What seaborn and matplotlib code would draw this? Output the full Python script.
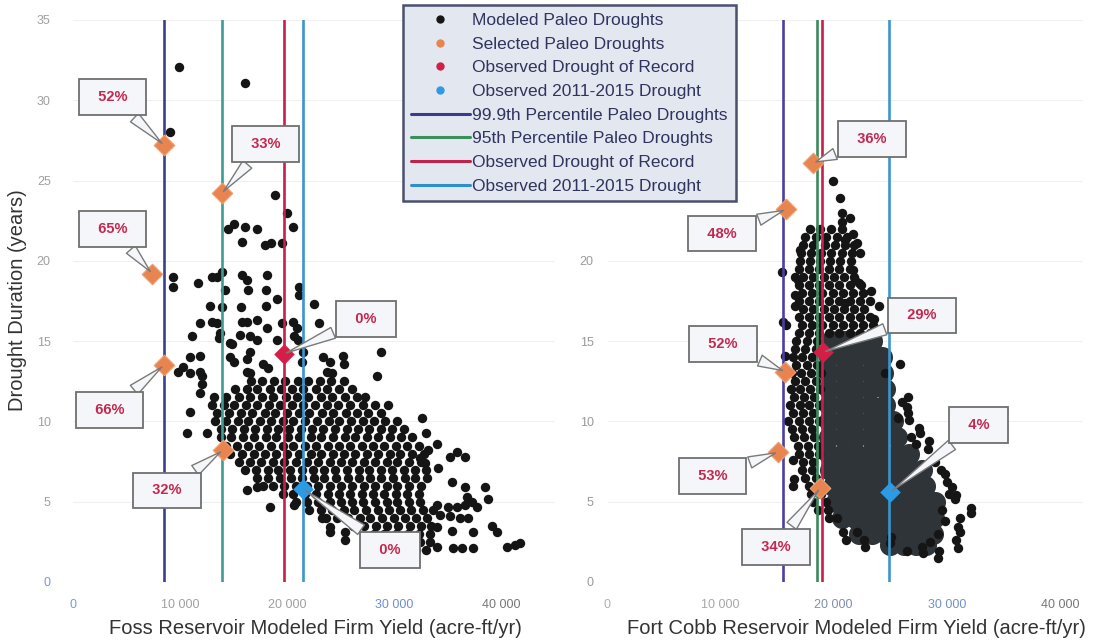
import matplotlib
matplotlib.use("Agg")
import matplotlib.pyplot as plt
from matplotlib.lines import Line2D
import matplotlib.ticker as mticker
import seaborn as sns
import pandas as pd

# Yield values are in thousand acre-ft/yr, durations in years.

# ---------------- Foss Reservoir ----------------
foss_sparse = [
    (9.9, 32.1), (16.1, 31.1), (9.1, 28.0),
    (18.9, 24.1), (20.0, 23.0), (20.6, 22.1), (15.0, 22.3), (14.5, 22.0), (16.1, 22.1), (17.2, 22.0),
    (15.8, 21.2), (17.9, 21.0), (18.5, 21.1), (19.5, 21.1),
    (9.3, 19.0), (9.3, 18.4), (11.7, 18.6), (13.0, 19.0), (13.5, 19.0), (13.9, 19.3), (15.8, 19.1),
    (16.3, 18.8), (18.1, 19.1), (14.2, 18.2), (16.4, 18.2), (18.0, 18.2), (21.1, 18.4), (21.1, 17.9),
    (22.5, 17.3), (12.8, 17.2), (15.7, 17.1), (18.0, 17.2), (19.1, 17.6), (13.9, 17.1),
    (11.9, 16.1), (13.0, 16.2), (13.5, 16.1), (15.8, 16.2), (16.3, 16.2), (17.2, 16.3), (18.1, 15.8),
    (19.5, 16.1), (20.6, 16.2), (20.9, 15.8), (23.0, 16.1),
    (11.1, 15.3), (13.7, 15.5), (13.6, 15.2), (15.6, 15.4), (16.5, 15.3), (17.2, 15.1), (14.9, 14.8),
    (14.7, 14.9), (19.1, 15.1), (20.7, 15.3), (21.0, 15.1),
    (10.9, 14.0), (11.9, 14.1), (14.7, 14.0), (15.0, 13.7), (16.5, 14.3), (16.3, 13.9), (17.8, 13.6),
    (18.2, 13.3), (21.5, 14.3), (21.4, 13.7), (23.4, 14.0), (24.0, 13.7), (25.2, 14.1), (25.3, 13.6),
    (28.8, 14.3), (28.4, 12.8),
    (10.3, 13.4), (9.8, 13.1), (10.9, 13.0), (11.9, 13.1), (12.1, 12.8), (16.3, 13.1), (16.5, 13.0),
    (23.7, 13.1), (24.2, 13.0),
    (10.9, 10.6), (11.9, 11.8), (12.1, 12.3), (10.7, 9.3), (12.5, 9.3),
    (16.3, 5.7), (17.2, 5.9), (17.8, 6.0), (18.4, 4.7), (20.7, 4.8),
    (23.3, 4.0), (24.0, 3.4), (24.0, 3.1), (25.4, 3.1), (25.4, 2.6),
    (27.3, 11.5), (29.4, 11.0), (32.6, 10.2), (33.0, 9.3), (34.0, 8.6), (35.9, 8.1), (36.6, 7.8),
    (35.2, 7.8), (33.2, 8.2), (32.4, 7.7), (32.9, 7.4), (34.1, 7.1), (35.4, 6.2), (36.6, 5.9),
    (38.5, 5.9), (38.8, 5.2), (36.8, 5.3), (37.3, 5.0), (37.8, 4.7), (36.6, 4.8), (35.9, 4.7),
    (35.0, 4.7), (34.0, 4.8), (34.3, 4.2), (35.2, 4.1), (36.2, 4.0), (36.9, 4.0), (35.4, 3.2),
    (37.4, 3.1), (39.2, 3.5), (39.6, 3.1), (34.0, 2.2), (35.5, 2.1), (36.4, 2.1), (37.4, 2.1),
    (40.6, 2.2), (41.3, 2.3), (41.8, 2.4), (34.0, 3.4),
]

foss_core_rows = [
    (12.5, [16.6, 17.7, 18.8, 19.8, 21.0, 22.0, 23.1, 24.1, 25.3]),
    (12.0, [15.1, 16.3, 17.2, 18.4, 19.4, 20.5, 21.5, 22.7, 23.7, 24.9, 26.1]),
    (11.5, [13.2, 14.3, 15.5, 16.5, 17.7, 18.7, 19.9, 20.9, 22.0, 23.2, 24.2, 25.4, 26.5]),
    (11.0, [13.0, 14.1, 15.0, 16.2, 17.2, 18.3, 19.3, 20.5, 21.5, 22.6, 23.7, 24.8, 25.9, 27.1, 28.2]),
    (10.5, [13.5, 14.6, 15.7, 16.7, 17.9, 18.9, 20.0, 21.1, 22.1, 23.3, 24.3, 25.5, 26.5, 27.6, 28.8]),
    (10.0, [13.3, 14.3, 15.4, 16.4, 17.5, 18.5, 19.6, 20.6, 21.7, 22.8, 23.9, 24.9, 26.0, 27.1, 28.1,
            29.2, 30.3]),
    (9.5, [13.8, 14.9, 16.0, 17.0, 18.1, 19.2, 20.2, 21.3, 22.3, 23.4, 24.5, 25.6, 26.6, 27.7, 28.8,
           29.8, 30.9]),
    (9.0, [13.8, 14.8, 15.9, 16.9, 18.0, 19.0, 20.1, 21.1, 22.2, 23.2, 24.3, 25.4, 26.4, 27.5, 28.5,
           29.6, 30.7, 31.7]),
    (8.5, [14.3, 15.3, 16.4, 17.4, 18.5, 19.6, 20.6, 21.7, 22.7, 23.8, 24.9, 25.9, 27.0, 28.0, 29.1,
           30.2, 31.2, 32.3]),
    (8.0, [14.7, 15.8, 16.9, 17.9, 19.0, 20.0, 21.1, 22.2, 23.2, 24.3, 25.3, 26.4, 27.5, 28.5, 29.6,
           30.6, 31.7, 32.8]),
    (7.5, [15.5, 16.5, 17.6, 18.7, 19.7, 20.8, 21.9, 22.9, 24.0, 25.0, 26.1, 27.2, 28.2, 29.3, 30.3,
           31.4, 32.5]),
    (7.0, [16.1, 17.1, 18.2, 19.2, 20.3, 21.4, 22.4, 23.5, 24.5, 25.6, 26.7, 27.7, 28.8, 29.8, 30.9,
           32.0, 33.0]),
    (6.5, [17.2, 18.2, 19.3, 20.4, 21.4, 22.5, 23.5, 24.6, 25.7, 26.7, 27.8, 28.8, 29.9, 31.0, 32.0, 33.1]),
    (6.0, [18.7, 19.7, 20.8, 21.9, 22.9, 24.0, 25.0, 26.1, 27.2, 28.2, 29.3, 30.3, 31.4, 32.5]),
    (5.5, [19.6, 20.6, 21.7, 22.7, 23.8, 24.9, 25.9, 27.0, 28.0, 29.1, 30.2, 31.2, 32.3]),
    (5.0, [20.8, 21.9, 22.9, 24.0, 25.0, 26.1, 27.1, 28.2, 29.3, 30.3, 31.4, 32.4]),
    (4.5, [22.1, 23.2, 24.2, 25.3, 26.3, 27.4, 28.5, 29.5, 30.6, 31.6, 32.7, 33.6]),
    (4.0, [23.6, 24.7, 25.7, 26.8, 27.8, 28.9, 30.0, 31.0, 32.1, 33.1]),
    (3.5, [26.2, 27.2, 28.3, 29.3, 30.4, 31.5, 32.5, 33.5]),
    (3.0, [28.1, 29.1, 30.2, 31.3, 32.3, 33.4]),
    (2.5, [30.3, 31.3, 32.4, 33.4]),
    (2.0, [31.2, 32.1, 33.0]),
]

foss_lines = [8.5, 13.9, 19.7, 21.5]          # 99.9th, 95th, record, 2011-2015
foss_sel_x = [8.5, 13.9, 7.4, 8.5, 14.0]
foss_sel_y = [27.2, 24.2, 19.2, 13.5, 8.2]
foss_sel_pct = ["52%", "33%", "65%", "66%", "32%"]
foss_record = (19.7, 14.2, "0%")
foss_recent = (21.5, 5.8, "0%")

# ---------------- Fort Cobb Reservoir ----------------
fort_sparse = [
    (19.9, 25.0), (20.6, 23.9), (20.7, 23.0), (21.4, 22.7), (20.7, 22.4), (21.7, 21.7), (21.0, 21.3),
    (22.1, 21.1), (22.3, 20.5), (17.0, 20.7), (16.6, 19.0), (16.8, 18.8), (21.7, 19.4), (22.2, 18.6),
    (21.9, 18.8), (16.6, 17.9), (16.6, 17.2), (23.3, 18.1), (24.0, 17.2), (23.6, 16.4), (21.0, 17.4),
    (15.4, 19.3), (15.5, 16.2), (15.7, 14.1), (15.8, 16.0), (16.5, 6.4), (16.4, 6.0), (16.4, 7.6),
    (25.9, 13.6), (24.5, 13.0), (26.6, 11.5), (26.0, 11.2), (26.5, 10.9), (25.7, 10.2), (26.7, 10.1),
    (26.6, 10.5), (27.6, 9.3), (27.5, 9.6), (28.4, 8.8), (28.3, 8.3), (27.3, 8.6), (26.8, 9.0),
    (29.0, 7.5), (29.5, 7.0), (29.8, 6.7), (30.0, 6.2), (30.5, 5.9), (30.2, 5.5), (30.7, 5.2),
    (30.8, 5.4), (29.6, 4.5), (32.1, 4.6), (32.1, 4.3), (31.2, 4.0), (29.8, 3.8), (31.0, 3.4),
    (31.2, 3.1), (29.2, 3.0), (30.8, 2.6), (31.0, 2.1), (28.5, 2.5), (27.8, 2.2), (27.9, 1.8),
    (29.3, 1.9), (29.2, 1.5), (26.5, 1.9), (21.1, 2.6), (22.1, 3.1), (22.8, 2.2), (20.8, 3.1),
    (22.7, 2.6), (25.0, 2.4), (25.1, 2.8),
]

fort_rows = [
    (22.0, [17.9, 18.8, 19.8, 20.7]),
    (21.5, [17.5, 18.4, 19.3, 20.3, 21.2]),
    (21.0, [17.3, 18.2, 19.2, 20.1, 21.0, 21.8]),
    (20.5, [17.1, 18.0, 18.9, 19.8, 20.7, 21.6]),
    (20.0, [17.0, 17.9, 18.8, 19.7, 20.6, 21.5]),
    (19.5, [16.9, 17.8, 18.7, 19.6, 20.5, 21.4]),
    (19.0, [17.3, 18.2, 19.1, 20.0, 20.9, 21.8]),
    (18.5, [16.9, 17.8, 18.7, 19.6, 20.5, 21.4, 22.4]),
    (18.0, [17.2, 18.1, 19.0, 19.9, 20.8, 21.7, 22.6]),
    (17.5, [16.9, 17.8, 18.7, 19.6, 20.5, 21.4, 22.3, 23.2]),
    (17.0, [17.3, 18.2, 19.1, 20.0, 20.9, 21.8, 22.7]),
    (16.5, [16.9, 17.8, 18.7, 19.6, 20.5, 21.4, 22.3, 23.2]),
    (16.0, [17.2, 18.1, 19.0, 19.9, 20.8, 21.7, 22.6, 23.5]),
    (15.5, [16.9, 17.8, 18.7, 19.6, 20.5, 21.4, 22.3, 23.2]),
    (15.0, [16.7, 17.6, 18.5]),
    (14.5, [16.6, 17.5, 18.4]),
    (14.0, [16.4, 17.2, 18.1]),
    (13.5, [16.7, 17.6, 18.5]),
    (13.0, [16.3, 17.1, 18.0, 18.9]),
    (12.5, [16.6, 17.5, 18.4]),
    (12.0, [16.2, 17.0, 17.9, 18.8]),
    (11.5, [16.5, 17.4, 18.3]),
    (11.0, [16.1, 17.0, 17.8, 18.7]),
    (10.5, [16.4, 17.3, 18.2]),
    (10.0, [16.0, 16.9, 17.8, 18.7]),
    (9.5, [16.3, 17.2, 18.1]),
    (9.0, [16.5, 17.4, 18.3]),
    (8.5, [16.8, 17.7, 18.6]),
    (8.0, [16.9, 17.8, 18.7]),
    (7.5, [17.3, 18.2]),
    (7.0, [17.2, 18.1]),
    (6.5, [17.5, 18.4]),
    (6.0, [17.8, 18.6]),
    (5.5, [18.0, 18.9]),
    (5.0, [18.2, 19.3]),
    (4.5, [18.6, 19.5]),
    (4.0, [19.6, 20.3]),
]

# the densest part of the Fort Cobb cloud (overlapping points read as one dark mass)
fort_core_rows = [
    (15.0, [19.8, 21.0, 22.2, 23.4]),
    (14.0, [19.6, 20.8, 22.0, 23.2, 24.3]),
    (13.0, [19.6, 20.8, 22.0, 23.2, 24.4]),
    (12.0, [19.6, 20.8, 22.0, 23.2, 24.5]),
    (11.0, [19.6, 20.8, 22.0, 23.2, 24.5]),
    (10.0, [19.6, 20.8, 22.0, 23.2, 24.4, 25.2]),
    (9.0, [19.6, 20.8, 22.0, 23.2, 24.4, 25.6]),
    (8.0, [19.6, 20.8, 22.0, 23.2, 24.4, 25.6, 26.7]),
    (7.0, [19.7, 20.9, 22.1, 23.3, 24.5, 25.7, 26.8, 27.8]),
    (6.0, [19.9, 21.1, 22.3, 23.5, 24.7, 25.9, 27.0, 28.1]),
    (5.0, [20.2, 21.4, 22.6, 23.8, 25.0, 26.2, 27.3, 28.4, 29.0]),
    (4.0, [20.7, 21.9, 23.1, 24.3, 25.5, 26.7, 27.8, 28.9]),
    (3.0, [22.2, 23.4, 24.6, 25.8, 27.0, 28.1, 28.8]),
    (2.3, [25.0, 26.2, 27.3, 28.2]),
]

fort_lines = [15.5, 18.5, 19.0, 24.9]
fort_sel_x = [18.2, 15.8, 15.7, 15.1, 18.8]
fort_sel_y = [26.1, 23.2, 13.1, 8.1, 5.85]
fort_sel_pct = ["36%", "48%", "52%", "53%", "34%"]
fort_record = (19.05, 14.3, "29%")
fort_recent = (25.0, 5.6, "4%")

# callout box centres (selected..., record, 2011-2015), layout only
foss_boxes = [(3.7, 30.2), (18.0, 27.3), (3.7, 22.0), (3.4, 10.7), (8.8, 5.7), (27.4, 16.4), (29.6, 2.0)]
fort_boxes = [(23.4, 27.6), (10.1, 21.7), (10.2, 14.8), (9.3, 6.6), (14.9, 2.2), (27.8, 16.6), (32.8, 9.8)]

legend_labels = ["Modeled Paleo Droughts", "Selected Paleo Droughts", "Observed Drought of Record",
                 "Observed 2011-2015 Drought", "99.9th Percentile Paleo Droughts",
                 "95th Percentile Paleo Droughts", "Observed Drought of Record",
                 "Observed 2011-2015 Drought"]


def expand(rows):
    return [(x, y) for y, xs in rows for x in xs]


def to_frame(points):
    df = pd.DataFrame(points, columns=["k", "duration"])
    df["yield"] = df["k"] * 1000
    return df


def space_thousands(v, pos):
    return f"{int(v):,}".replace(",", " ")


sns.set_style("white")
plt.rcParams["font.family"] = ["Liberation Sans", "DejaVu Sans"]

fig = plt.figure(figsize=(10.96, 6.43), dpi=100)
ax1 = fig.add_axes([73 / 1096, 61 / 643, 481.5 / 1096, 562 / 643])
ax2 = fig.add_axes([607.5 / 1096, 61 / 643, 475 / 1096, 562 / 643])

orange = "#e8844f"
red_pt = "#d41e45"
blue_pt = "#2c9be6"
box_style = dict(boxstyle="square,pad=0.75", fc="#f4f6fa", ec="#6f6f6f", lw=1.3)
arrow_style = dict(arrowstyle="wedge,tail_width=0.8,shrink_factor=0.5", fc="#f4f6fa", ec="#7a7a7a", lw=1.0)


def draw_panel(ax, dots, core, lines, line_colors, sel_x, sel_y, sel_pct, record, recent, boxes, xmax, yticks):
    if core is not None:
        sns.scatterplot(data=core, x="yield", y="duration", ax=ax, color="#2f3439", s=230,
                        linewidth=0, legend=False, zorder=2)
    sns.scatterplot(data=dots, x="yield", y="duration", ax=ax, color="#151515", s=46,
                    linewidth=0, legend=False, zorder=3)
    for v, c in zip(lines, line_colors):
        ax.axvline(v * 1000, color=c, lw=1.9, zorder=4)

    sel = to_frame(list(zip(sel_x, sel_y)))
    sns.scatterplot(data=sel, x="yield", y="duration", ax=ax, marker="D", color=orange, s=110,
                    edgecolor="#f0a070", linewidth=0.8, legend=False, zorder=6)
    ax.scatter([record[0] * 1000], [record[1]], marker="D", color=red_pt, s=110, zorder=6, linewidths=0)
    ax.scatter([recent[0] * 1000], [recent[1]], marker="D", color=blue_pt, s=110, zorder=6, linewidths=0)

    pts = list(zip(sel_x, sel_y, sel_pct)) + [record, recent]
    for (px, py, txt), (bx, by) in zip(pts, boxes):
        ax.annotate(f"  {txt}  ", xy=(px * 1000, py), xytext=(bx * 1000, by), textcoords="data",
                    ha="center", va="center", fontsize=10.5, fontweight="bold", color="#c4284f",
                    bbox=box_style, arrowprops=arrow_style, zorder=8, annotation_clip=False)

    ax.set_xlim(0, xmax * 1000)
    ax.set_ylim(0, 35)
    ax.set_xticks([0, 10000, 20000, 30000, 40000])
    ax.set_yticks(yticks)
    for gy in [5, 10, 15, 20, 25, 30, 35]:
        ax.axhline(gy, color="#f0f0f0", lw=0.8, zorder=0)
    ax.xaxis.set_major_formatter(mticker.FuncFormatter(space_thousands))
    ax.tick_params(length=0, labelsize=9, colors="#9a9a9a")
    for s in ax.spines.values():
        s.set_visible(False)
    ax.set_ylabel("")


foss_dots = to_frame(foss_sparse + expand(foss_core_rows))
draw_panel(ax1, foss_dots, None, foss_lines, ["#3c3f8f", "#3f9b93", "#c8204a", "#3a96cc"],
           foss_sel_x, foss_sel_y, foss_sel_pct, foss_record, foss_recent, foss_boxes, 45,
           [0, 5, 10, 15, 20, 25, 30, 35])

fort_dots = to_frame(fort_sparse + expand(fort_rows))
fort_core = to_frame(expand(fort_core_rows))
# upper tick labels of this panel sit under the legend, so only 0-20 are shown
draw_panel(ax2, fort_dots, fort_core, fort_lines, ["#4a40a0", "#3d8a5e", "#c8204a", "#3a96cc"],
           fort_sel_x, fort_sel_y, fort_sel_pct, fort_record, fort_recent, fort_boxes, 42,
           [0, 5, 10, 15, 20])

ax1.tick_params(axis="x", pad=12)
ax1.tick_params(axis="y", pad=16)
ax2.tick_params(axis="x", pad=12)
ax2.tick_params(axis="y", pad=10)

# scanned tick labels: a few printed in light blue
for lab, c in zip(ax1.get_xticklabels(), ["#7a9ad0", "#a0a0a0", "#a0a0a0", "#6f8fcf", "#777777"]):
    lab.set_color(c)
for lab, c in zip(ax1.get_yticklabels(), ["#7a9ad0"] + ["#a0a0a0"] * 7):
    lab.set_color(c)
for lab, c in zip(ax2.get_xticklabels(), ["#b0b0b0", "#a8a8a8", "#8090a8", "#7090d0", "#777777"]):
    lab.set_color(c)

ax1.set_xlabel("Foss Reservoir Modeled Firm Yield (acre-ft/yr)", fontsize=14.5, color="#333333")
ax1.xaxis.set_label_coords(0.503, -0.066)
ax1.set_ylabel("Drought Duration (years)", fontsize=14.5, color="#333333")
ax1.yaxis.set_label_coords(-0.095, 0.502)
ax2.set_xlabel("Fort Cobb Reservoir Modeled Firm Yield (acre-ft/yr)", fontsize=14.5, color="#333333")
ax2.xaxis.set_label_coords(0.525, -0.066)

handles = [
    Line2D([], [], marker="o", ls="none", color="#151515", markersize=5),
    Line2D([], [], marker="o", ls="none", color=orange, markersize=5),
    Line2D([], [], marker="o", ls="none", color=red_pt, markersize=5),
    Line2D([], [], marker="o", ls="none", color=blue_pt, markersize=5),
    Line2D([], [], color="#3b3a8c", lw=2.2),
    Line2D([], [], color="#3a8f5c", lw=2.2),
    Line2D([], [], color="#c0244a", lw=2.2),
    Line2D([], [], color="#2f8fcc", lw=2.2),
]
leg = fig.legend(handles, legend_labels, loc="upper left", bbox_to_anchor=(403 / 1096, 1 - 5 / 643),
                 fontsize=12.5, labelspacing=0.49, handlelength=3.4, handletextpad=0.15,
                 borderpad=0.45, borderaxespad=0, frameon=True, fancybox=False, framealpha=1)
leg.get_frame().set_edgecolor("#4b4f70")
leg.get_frame().set_linewidth(1.8)
leg.get_frame().set_facecolor("#e3e7ef")
for t in leg.get_texts():
    t.set_color("#30345e")
leg.set_zorder(20)

fig.savefig("out.png", dpi=100)
